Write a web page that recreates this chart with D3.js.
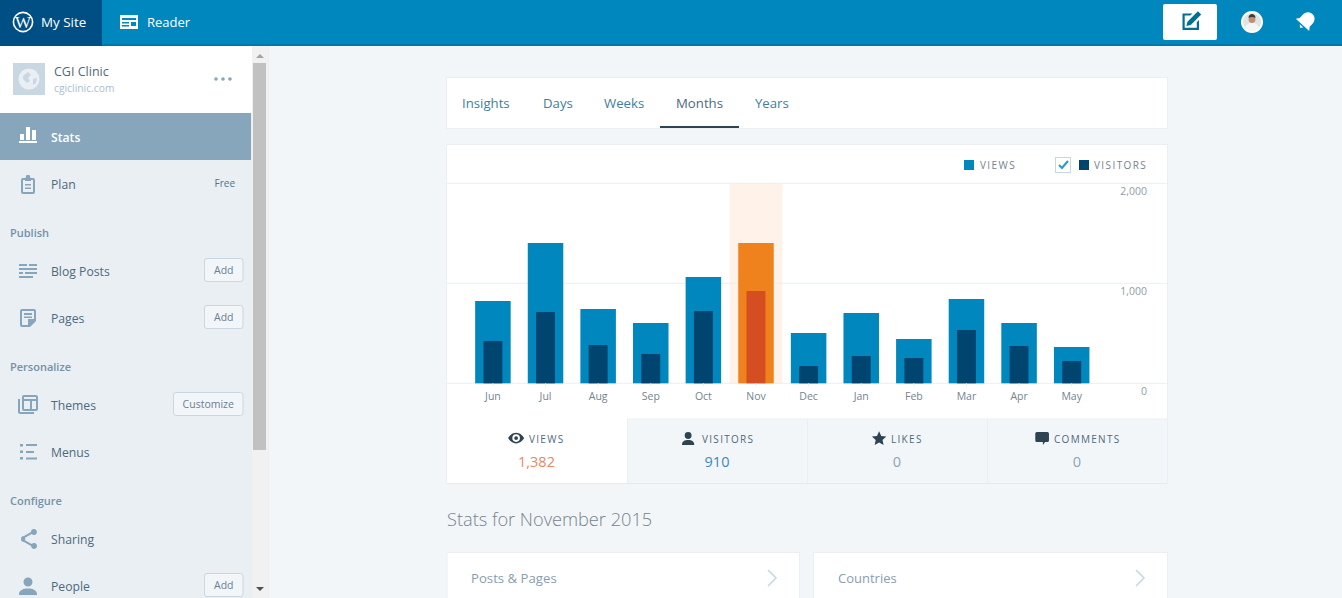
<!DOCTYPE html>
<html>
<head>
<meta charset="utf-8">
<script src="https://cdn.jsdelivr.net/npm/d3@7/dist/d3.min.js"></script>
<style>
html, body { margin: 0; padding: 0; background: #f3f6f8; overflow: hidden; }
svg { display: block; }
text { font-family: "Open Sans", sans-serif; }
</style>
</head>
<body>
<div id="chart"></div>
<script>
// chart values
var months = ["Jun", "Jul", "Aug", "Sep", "Oct", "Nov", "Dec", "Jan", "Feb", "Mar", "Apr", "May"];
var views = [823, 1403, 743, 603, 1063, 1403, 503, 703, 443, 843, 603, 363];
var visitors = [423, 713, 383, 293, 723, 923, 173, 273, 253, 533, 373, 223];
var yTicks = [0, 1000, 2000];
var selectedMonth = "Nov";

var tabs = ["Insights", "Days", "Weeks", "Months", "Years"];
var tabX = [462, 543, 604, 676, 755];
var kpiLabels = ["VIEWS", "VISITORS", "LIKES", "COMMENTS"];
var kpiValues = ["1,382", "910", "0", "0"];

var svg = d3.select("#chart").append("svg").attr("width", 1342).attr("height", 598);

function txt(parent, x, y, s, size, color, opts) {
  opts = opts || {};
  return parent.append("text")
    .attr("x", x).attr("y", y)
    .attr("dominant-baseline", "central")
    .attr("text-anchor", opts.anchor || "start")
    .attr("font-size", size)
    .attr("font-weight", opts.weight || 400)
    .attr("letter-spacing", opts.spacing || 0)
    .attr("fill", color)
    .text(s);
}
function box(parent, x, y, w, h, fill, stroke, r) {
  return parent.append("rect")
    .attr("x", x).attr("y", y).attr("width", w).attr("height", h)
    .attr("fill", fill).attr("stroke", stroke || "none").attr("rx", r || 0);
}
// icons are drawn in a 24 box and scaled
function icon(parent, x, y, scale, d, color) {
  return parent.append("path")
    .attr("transform", "translate(" + x + "," + y + ") scale(" + scale + ")")
    .attr("d", d).attr("fill", color).attr("fill-rule", "evenodd");
}

/* ---- sidebar ---- */
var side = svg.append("g");
box(side, 0, 46, 252, 552, "#e9eff3");
box(side, 0, 46, 252, 67, "#fff");
box(side, 252, 46, 16, 552, "#f1f1f1");
box(side, 268, 46, 1, 552, "#e9eff3");
box(side, 253, 63, 13, 387, "#c1c1c1");
side.append("path").attr("d", "M256 58l4-4 4 4z").attr("fill", "#a3a3a3");
side.append("path").attr("d", "M256 587l4 4 4-4z").attr("fill", "#505050");

box(side, 13, 63, 32, 32, "#c8d7e1");
side.append("circle").attr("cx", 29).attr("cy", 79).attr("r", 10.5).attr("fill", "#e9eff3");
side.append("path").attr("d", "M23 76l5-4 3 3-3 3 2 3-3 2-4-4zM33 79l4-1-1 5-3 2z").attr("fill", "#c8d7e1");
txt(side, 54, 71, "CGI Clinic", 12.5, "#4f6a7e");
txt(side, 54, 88, "cgiclinic.com", 10.3, "#a8bece");
[216, 223, 230].forEach(function(cx) {
  side.append("circle").attr("cx", cx).attr("cy", 79).attr("r", 1.8).attr("fill", "#87a6bc");
});

box(side, 0, 113, 251, 47, "#87a6bc");
icon(side, 16, 123, 1, "M3 18h18v2H3zM4 11h4v6H4zM10 4h4v13h-4zM16 7h4v10h-4z", "#fff");
txt(side, 51, 137, "Stats", 12.2, "#fff", {weight: 600});

var navColor = "#87a6bc";
var rows = [
  {label: "Plan", y: 184},
  {label: "Blog Posts", y: 271, button: "Add"},
  {label: "Pages", y: 318, button: "Add"},
  {label: "Themes", y: 405, button: "Customize"},
  {label: "Menus", y: 452},
  {label: "Sharing", y: 539},
  {label: "People", y: 586, button: "Add"}
];
rows.forEach(function(r) {
  txt(side, 51, r.y, r.label, 12.2, "#4f6a7e");
  if (r.button) {
    var w = r.button === "Add" ? 38.5 : 69.5;
    box(side, 243 - w, r.y - 12.5, w, 23, "#f3f6f8", "#c8d7e1", 2.5);
    txt(side, 243 - w / 2, r.y - 1, r.button, 10.5, "#668097", {anchor: "middle"});
  }
});
txt(side, 235, 183, "Free", 10, "#4f748e", {anchor: "end"});
[["Publish", 232], ["Personalize", 366], ["Configure", 500]].forEach(function(h) {
  txt(side, 10, h[1], h[0], 11, "#7492a8", {weight: 600});
});

icon(side, 16, 172, 1, "M7 6h2.5l1-3h3l1 3H17a2 2 0 0 1 2 2v12a2 2 0 0 1-2 2H7a2 2 0 0 1-2-2V8a2 2 0 0 1 2-2zM7 8v12h10V8h-2v1H9V8zM9 12h6v1.6H9zM9 15.5h6v1.6H9z", navColor);
icon(side, 16, 259, 1, "M3 5h8v2H3zM13 5h8v2h-8zM3 9h18v2H3zM3 13h4v2H3zM9 13h12v2H9zM3 17h14v2H3z", navColor);
icon(side, 16, 306, 1, "M6 3h12a2 2 0 0 1 2 2v10l-6 6H6a2 2 0 0 1-2-2V5a2 2 0 0 1 2-2zM6 5v14h6v-6h6V5zM8 7h8v2H8zM8 10.5h8v1.6H8z", navColor);
icon(side, 16, 392, 1, "M8 3h12a2 2 0 0 1 2 2v12a2 2 0 0 1-2 2H8a2 2 0 0 1-2-2V5a2 2 0 0 1 2-2zM8 5v2h12V5zM8 9v8h6V9zM16 9v8h4V9zM2 7h2v13h14v2H4a2 2 0 0 1-2-2z", navColor);
icon(side, 16, 440, 1, "M4 4h3v2.6H4zM10 4h11v2H10zM4 10.5h3v2.6H4zM10 11h8v2h-8zM4 17h3v2.6H4zM10 17.5h11v2H10z", navColor);
icon(side, 16, 527, 1, "M18 2a3 3 0 1 1-2.3 5L9 10.8a3 3 0 0 1 0 2.4l6.7 3.8A3 3 0 1 1 15 19l-7-4a3 3 0 1 1 0-6l7-4a3 3 0 0 1 3-3z", navColor);
icon(side, 16, 574, 1, "M12 3.5a4.5 4.5 0 1 1 0 9 4.5 4.5 0 0 1 0-9zM3 20c0-3.5 4-5.5 9-5.5s9 2 9 5.5v1H3z", navColor);

/* ---- top bar ---- */
var topBar = svg.append("g");
box(topBar, 0, 0, 1342, 46, "#0087be");
box(topBar, 0, 44, 1342, 2, "#0079aa");
box(topBar, 0, 0, 102, 46, "#004f84");
topBar.append("circle").attr("cx", 23).attr("cy", 22).attr("r", 9.6)
  .attr("fill", "none").attr("stroke", "#fff").attr("stroke-width", 1.6);
txt(topBar, 23, 22.5, "W", 17, "#fff", {anchor: "middle"}).style("font-family", "'Liberation Serif', serif");
txt(topBar, 41, 22, "My Site", 13.4, "#fff", {weight: 500});
icon(topBar, 117, 10, 1, "M3 5h18v14H3zM5 8v2h14V8zM5 12v1.5h7V12zM14 12v4h5v-4zM5 15v1.5h7V15z", "#fff");
txt(topBar, 147, 22, "Reader", 13, "#fff", {weight: 500});
box(topBar, 1163, 4, 54, 36, "#fff", null, 2);
icon(topBar, 1177, 9, 1.1, "M5 4h9l-2 2H7v11h11v-5l2-2v9H5zM19 2l3 3-9.5 9.5-4 1 1-4z", "#006f94");
topBar.append("circle").attr("cx", 1252).attr("cy", 22).attr("r", 11).attr("fill", "#fff");
topBar.append("circle").attr("cx", 1252).attr("cy", 22).attr("r", 9).attr("fill", "#dfe5e2");
topBar.append("circle").attr("cx", 1252).attr("cy", 19.5).attr("r", 3.4).attr("fill", "#b98f78");
topBar.append("path").attr("d", "M1248.500 18c0-3 2-4 3.500-4s3.500 1 3.500 4c-2-1.500-5-1.500-7 0z").attr("fill", "#3a3a38");
topBar.append("path").attr("d", "M1245 28c1-4 4-5 7-5s6 1 7 5a9 9 0 0 1-14 0z").attr("fill", "#f4f6f4");
// bell leans to the right
icon(topBar, 1306, 21, 1, "M0-10c4.500 0 7 3.500 7 7.500V2l2.500 3.500H-9.500L-7 2v-4.500C-7-6.500-4.500-10 0-10zM-2.500 7h5L0 9.500z", "#fff")
  .attr("transform", "translate(1306,21) rotate(42) scale(0.95)");

/* ---- tabs ---- */
box(svg, 446.5, 77.5, 721, 51, "#fff", "#e9eff3");
tabs.forEach(function(t, i) {
  txt(svg, tabX[i], 103, t, 13.2, t === "Months" ? "#4f6a7e" : "#3d7f9f");
});
box(svg, 660, 126, 79, 2, "#2e4453");

/* ---- chart card ---- */
box(svg, 446.5, 144.5, 721, 339, "#fff", "#e9eff3");

var x = d3.scaleBand().domain(months).range([466.6, 1098]);
var y = d3.scaleLinear().domain([0, 2000]).range([383.3, 183.3]);
var viewW = x.bandwidth() * 0.675;
var visitW = x.bandwidth() * 0.36;
var tableRows = months.map(function(m, i) { return {month: m, views: views[i], visitors: visitors[i]}; });

var plot = svg.append("g");
plot.selectAll("rect.sel").data(tableRows.filter(function(d) { return d.month === selectedMonth; }))
  .enter().append("rect").attr("class", "sel")
  .attr("x", function(d) { return x(d.month); })
  .attr("y", y(2000))
  .attr("width", x.bandwidth())
  .attr("height", y(0) - y(2000))
  .attr("fill", "#fef2e9");

plot.selectAll("line.grid").data(yTicks).enter().append("line").attr("class", "grid")
  .attr("x1", 447).attr("x2", 1167)
  .attr("y1", function(d) { return y(d); })
  .attr("y2", function(d) { return y(d); })
  .attr("stroke", "#e9eff3");

plot.selectAll("rect.views").data(tableRows).enter().append("rect").attr("class", "views")
  .attr("x", function(d) { return x(d.month) + (x.bandwidth() - viewW) / 2; })
  .attr("y", function(d) { return y(d.views); })
  .attr("width", viewW)
  .attr("height", function(d) { return y(0) - y(d.views); })
  .attr("fill", function(d) { return d.month === selectedMonth ? "#f0821e" : "#0087be"; });

plot.selectAll("rect.visitors").data(tableRows).enter().append("rect").attr("class", "visitors")
  .attr("x", function(d) { return x(d.month) + (x.bandwidth() - visitW) / 2; })
  .attr("y", function(d) { return y(d.visitors); })
  .attr("width", visitW)
  .attr("height", function(d) { return y(0) - y(d.visitors); })
  .attr("fill", function(d) { return d.month === selectedMonth ? "#d54e21" : "#00456f"; });

var xAxis = svg.append("g").attr("transform", "translate(0," + y(0) + ")")
  .call(d3.axisBottom(x).tickSize(3).tickPadding(6));
xAxis.select(".domain").remove();
xAxis.selectAll("line").attr("stroke", "#e9eff3");
xAxis.selectAll("text").attr("font-size", 10.5).attr("fill", "#75838e").style("font-family", "'Open Sans', sans-serif");

var yAxis = svg.append("g").attr("transform", "translate(1147,8)")
  .call(d3.axisLeft(y).tickValues(yTicks).tickSize(0).tickPadding(0).tickFormat(d3.format(",")));
yAxis.select(".domain").remove();
yAxis.selectAll("text").attr("font-size", 10.5).attr("fill", "#8f9da8").style("font-family", "'Open Sans', sans-serif");

/* ---- legend ---- */
box(svg, 964, 160, 10, 10, "#0087be");
txt(svg, 980, 165, "VIEWS", 10, "#75838e", {spacing: 1.4});
box(svg, 1055.5, 157.5, 15, 15, "#fff", "#c8d7e1");
svg.append("path").attr("d", "M1059 165l3 3 6-7").attr("fill", "none").attr("stroke", "#2e9bc9").attr("stroke-width", 2.2);
box(svg, 1079, 160, 10, 10, "#00456f");
txt(svg, 1094, 165, "VISITORS", 10, "#75838e", {spacing: 1.4});

/* ---- summary tabs under the chart ---- */
var kpiX = [447, 627.5, 807.5, 987.5];
var kpiW = [180.5, 180, 180, 179.5];
var kpiCenter = [536.5, 717, 897, 1077];
var kpiColor = ["#e58a68", "#3d8ab5", "#87a6bc", "#87a6bc"];
var kpiLabelX = [529, 702, 891, 1054];
var kpiIconX = [507, 679, 870, 1033];
var kpiIcons = [
  "M12 5c5 0 9 4 10.5 7C21 15 17 19 12 19S3 15 1.500 12C3 9 7 5 12 5zM12 7a5 5 0 1 0 0 10 5 5 0 0 0 0-10zM12 9.500a2.500 2.500 0 1 1 0 5 2.500 2.500 0 0 1 0-5z",
  "M12 4a4.500 4.500 0 1 1 0 9 4.500 4.500 0 0 1 0-9zM4 20c0-3.500 3.500-5.500 8-5.500s8 2 8 5.500v1H4z",
  "M12 3l2.800 6.200 6.700.7-5 4.500 1.400 6.600-5.900-3.400L6.100 21l1.400-6.600-5-4.500 6.700-.7z",
  "M5 4h14a2 2 0 0 1 2 2v9a2 2 0 0 1-2 2h-3l-3 4v-4H5a2 2 0 0 1-2-2V6a2 2 0 0 1 2-2z"
];
kpiLabels.forEach(function(lab, i) {
  box(svg, kpiX[i], 419, kpiW[i], 64.5, i === 0 ? "#fff" : "#f3f6f8");
  if (i > 0) svg.append("line").attr("x1", kpiX[i]).attr("x2", kpiX[i]).attr("y1", 419).attr("y2", 483.5).attr("stroke", "#e9eff3");
  icon(svg, kpiIconX[i], 429, 0.76, kpiIcons[i], "#2e4453");
  txt(svg, kpiLabelX[i], 439, lab, 10, "#4f6a7e", {spacing: 1.3});
  txt(svg, kpiCenter[i], 461.5, kpiValues[i], 14.5, kpiColor[i], {anchor: "middle"});
});
svg.append("line").attr("x1", 447).attr("x2", 1167).attr("y1", 483.5).attr("y2", 483.5).attr("stroke", "#e3ebf0");
svg.append("line").attr("x1", 627.5).attr("x2", 1167).attr("y1", 419).attr("y2", 419).attr("stroke", "#e9eff3");

/* ---- below the chart ---- */
txt(svg, 447, 518.5, "Stats for November 2015", 18.2, "#75838e", {weight: 300});
box(svg, 447, 552.5, 352.5, 60, "#fff", "#e9eff3");
box(svg, 813.5, 552.5, 354, 60, "#fff", "#e9eff3");
txt(svg, 471, 578, "Posts & Pages", 13.2, "#8a9eae");
txt(svg, 838, 578, "Countries", 13, "#8a9eae");
[768, 1136].forEach(function(cx) {
  svg.append("path").attr("d", "M" + cx + " 570l8 8-8 8")
    .attr("fill", "none").attr("stroke", "#c8d7e1").attr("stroke-width", 1.6);
});
</script>
</body>
</html>
